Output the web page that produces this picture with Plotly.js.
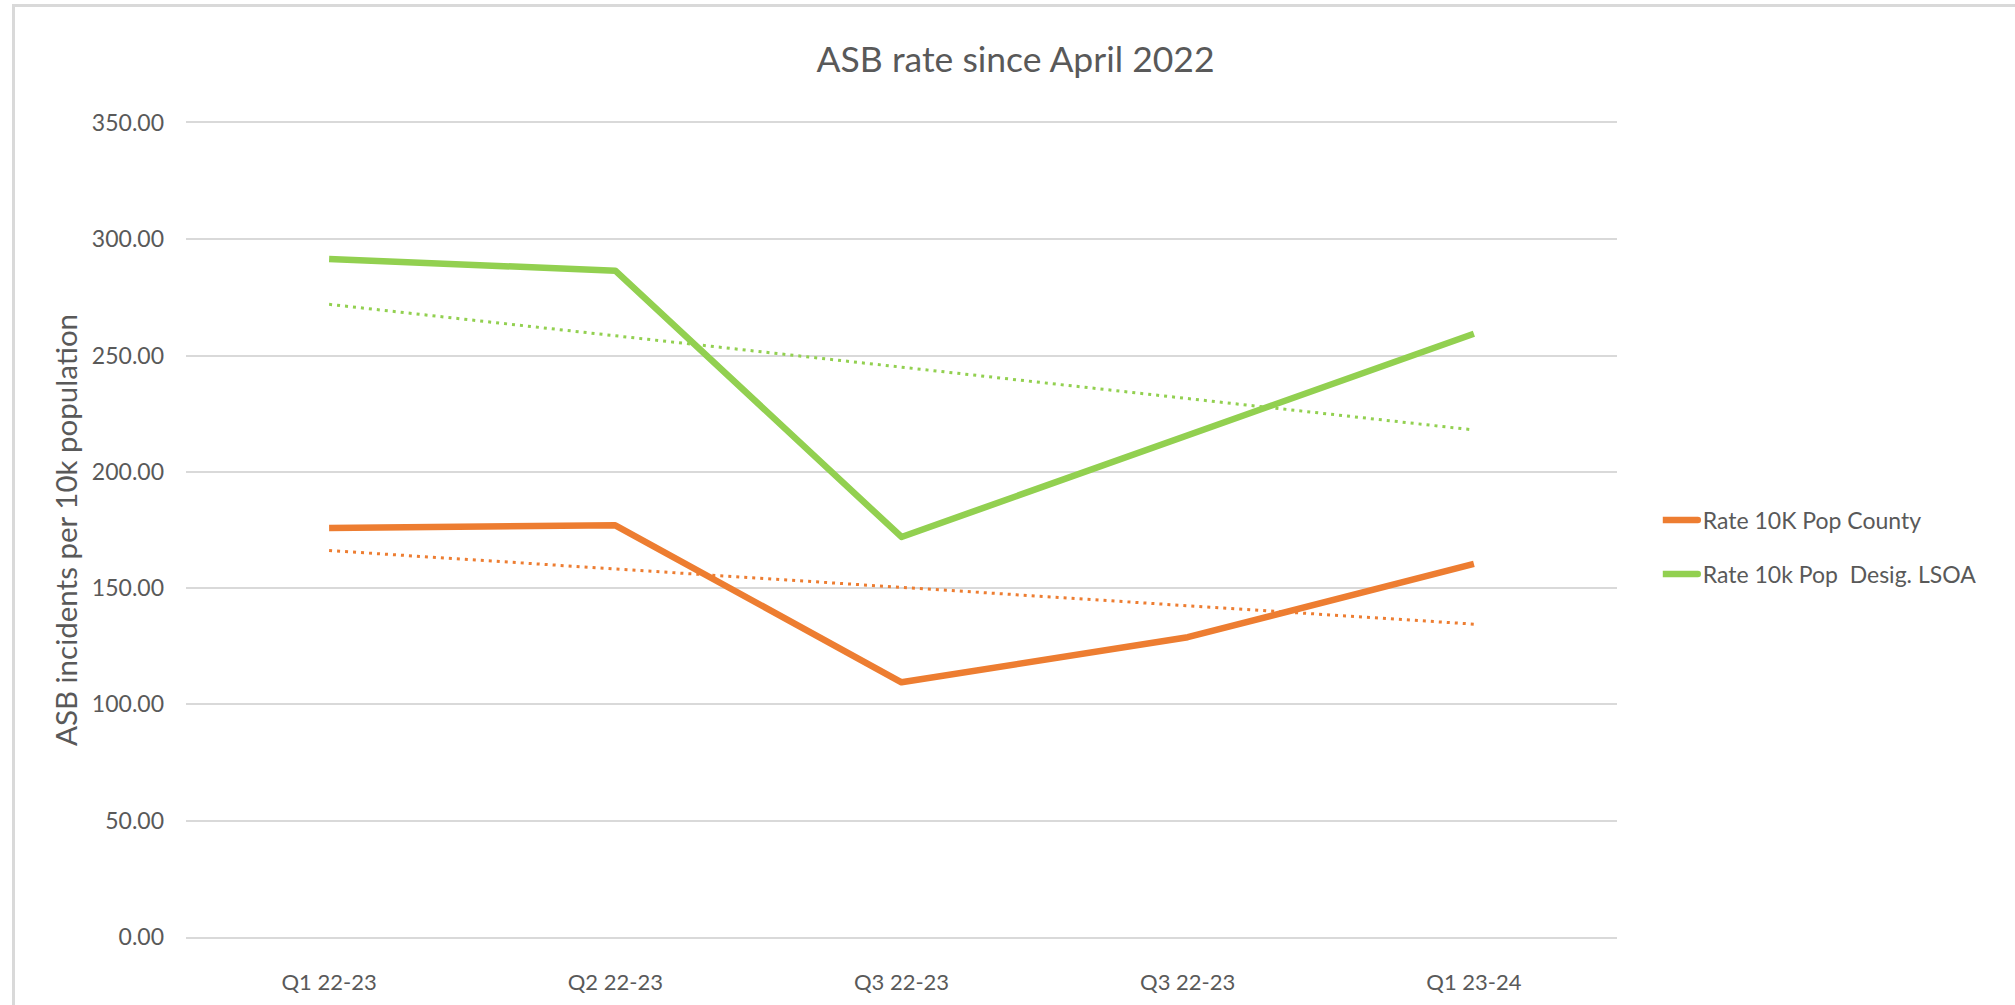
<!DOCTYPE html>
<html>
<head>
<meta charset="utf-8">
<script src="https://cdn.plot.ly/plotly-3.0.1.min.js"></script>
<style>
  html, body { margin: 0; padding: 0; background: #fff; overflow: hidden; }
  #frame { position: absolute; left: 12px; top: 4px; width: 2100px; height: 1100px; border: 3px solid #d9d9d9; box-sizing: border-box; }
  #chart { position: absolute; left: 0; top: 0; width: 2015px; height: 1005px; }
  .legendlines path { d: path("M-20,0h55"); stroke-linecap: round; }
  .scatterlayer .js-line { stroke-linejoin: round; }
</style>
</head>
<body>
<div id="frame"></div>
<div id="chart"></div>
<script>
// Data
const categories = ["Q1 22-23", "Q2 22-23", "Q3 22-23", "Q3 22-23", "Q1 23-24"];
const countyRate = [175.9, 177.0, 109.5, 128.9, 160.4];
const lsoaRate   = [291.5, 286.5, 172.0, 215.7, 259.4];
const yTickVals  = [0, 50, 100, 150, 200, 250, 300, 350];

const countyName = "Rate 10K Pop County";
const lsoaName   = "Rate 10k Pop  Desig. LSOA";
const orange = "#ED7D31";
const green  = "#92D050";

// category positions (duplicate labels kept distinct)
const xPos = categories.map((_, i) => i);

// Linear trendline (least squares), as in the source chart
function trend(ys) {
  const n = ys.length;
  const mx = xPos.reduce((a, b) => a + b, 0) / n;
  const my = ys.reduce((a, b) => a + b, 0) / n;
  let num = 0, den = 0;
  for (let i = 0; i < n; i++) { num += (xPos[i] - mx) * (ys[i] - my); den += (xPos[i] - mx) ** 2; }
  const slope = num / den;
  return xPos.map(x => my + slope * (x - mx));
}

const fontFam = "Lato, 'Open Sans', sans-serif";
const gridCol = "#d9d9d9";
const textCol = "#595959";

const traces = [
  { x: xPos, y: countyRate, name: countyName, type: "scatter", mode: "lines", legendgroup: "a",
    line: { color: orange, width: 6.5 } },
  { x: xPos, y: lsoaRate, name: lsoaName, type: "scatter", mode: "lines", legendgroup: "b",
    line: { color: green, width: 6.5 } },
  { x: xPos, y: trend(countyRate), name: "Linear (" + countyName + ")", type: "scatter", mode: "lines",
    line: { color: orange, width: 3, dash: "3px,5px" }, showlegend: false },
  { x: xPos, y: trend(lsoaRate), name: "Linear (" + lsoaName + ")", type: "scatter", mode: "lines",
    line: { color: green, width: 3, dash: "3px,5px" }, showlegend: false }
];

const layout = {
  width: 2015, height: 1005,
  paper_bgcolor: "rgba(0,0,0,0)", plot_bgcolor: "rgba(0,0,0,0)",
  margin: { l: 186, r: 398, t: 123, b: 68 },
  font: { family: fontFam, color: textCol },
  title: { text: "ASB rate since April 2022", x: 0.504, xanchor: "center", y: 0.941, yanchor: "middle",
           font: { family: fontFam, size: 35.5, color: textCol } },
  xaxis: {
    range: [-0.5, 4.5], tickmode: "array", tickvals: xPos, ticktext: categories,
    showgrid: false, zeroline: false, showline: true, mirror: true, linecolor: gridCol, linewidth: 2,
    ticks: "",
    tickfont: { family: fontFam, size: 22, color: textCol }, ticklabelstandoff: 25
  },
  yaxis: {
    range: [0, 350], tickmode: "array", tickvals: yTickVals,
    ticktext: yTickVals.map(v => v.toFixed(2)),
    showgrid: true, gridcolor: gridCol, gridwidth: 2, zeroline: false, showline: false, ticks: "",
    tickfont: { family: fontFam, size: 23, color: textCol }, ticklabelstandoff: 21,
    title: { text: "ASB incidents per 10k population", standoff: 5,
             font: { family: fontFam, size: 29.5, color: textCol } }
  },
  showlegend: true,
  legend: { x: 1.032, xanchor: "left", y: 0.479, yanchor: "middle",
            font: { family: fontFam, size: 23, color: textCol },
            bgcolor: "rgba(0,0,0,0)", tracegroupgap: 21, itemwidth: 30 }
};

Plotly.newPlot("chart", traces, layout, { displayModeBar: false, staticPlot: true });
</script>
</body>
</html>
